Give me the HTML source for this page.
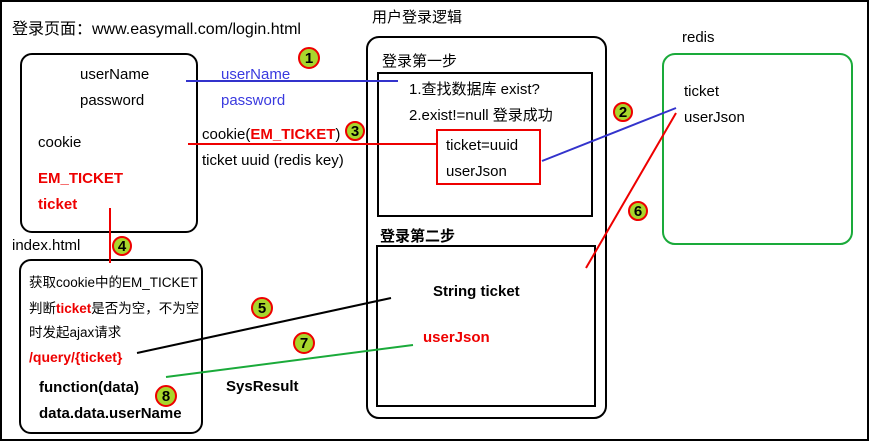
<!DOCTYPE html>
<html><head><meta charset="utf-8"><style>
body{margin:0;background:#fff;}
svg text{font-family:"Liberation Sans","Noto Sans CJK SC",sans-serif;font-size:15px;}
.b{font-weight:bold}
</style></head><body>
<svg width="871" height="442" xmlns="http://www.w3.org/2000/svg">
<rect x="1" y="1" width="867" height="439" fill="#fff" stroke="#000" stroke-width="2"/>
<rect x="21" y="54" width="176" height="178" rx="11" fill="none" stroke="#000" stroke-width="2"/>
<rect x="20" y="260" width="182" height="173" rx="11" fill="none" stroke="#000" stroke-width="2"/>
<rect x="367" y="37" width="239" height="381" rx="12" fill="none" stroke="#000" stroke-width="2"/>
<rect x="378" y="73" width="214" height="143" fill="none" stroke="#000" stroke-width="2"/>
<rect x="437" y="130" width="103" height="54" fill="none" stroke="#e00" stroke-width="2"/>
<rect x="377" y="246" width="218" height="160" fill="none" stroke="#000" stroke-width="2"/>
<rect x="663" y="54" width="189" height="190" rx="12" fill="none" stroke="#1aaa3a" stroke-width="2"/>

<line x1="186" y1="81" x2="398" y2="81" stroke="#3333cc" stroke-width="2"/>
<line x1="188" y1="144" x2="436" y2="144" stroke="#e00" stroke-width="2"/>
<line x1="110" y1="208" x2="110" y2="263" stroke="#e00" stroke-width="2"/>
<line x1="542" y1="161" x2="676" y2="108" stroke="#3333cc" stroke-width="2"/>
<line x1="586" y1="268" x2="676" y2="113" stroke="#e00" stroke-width="2"/>
<line x1="137" y1="353" x2="391" y2="298" stroke="#000" stroke-width="2"/>
<line x1="166" y1="377" x2="413" y2="345" stroke="#1aaa3a" stroke-width="2"/>

<text x="12" y="34" style="font-size:16px">登录页面：www.easymall.com/login.html</text>
<text x="372" y="22">用户登录逻辑</text>
<text x="682" y="42">redis</text>
<text x="80" y="79">userName</text>
<text x="80" y="105">password</text>
<text x="38" y="147">cookie</text>
<text x="38" y="183" class="b" fill="#e00">EM_TICKET</text>
<text x="38" y="209" class="b" fill="#e00">ticket</text>
<text x="221" y="79" fill="#3a3adf">userName</text>
<text x="221" y="105" fill="#3a3adf">password</text>
<text x="202" y="139">cookie(<tspan class="b" fill="#e00">EM_TICKET</tspan>)</text>
<text x="202" y="165">ticket uuid (redis key)</text>
<text x="382" y="66">登录第一步</text>
<text x="409" y="94">1.查找数据库 exist?</text>
<text x="409" y="120">2.exist!=null 登录成功</text>
<text x="446" y="150">ticket=uuid</text>
<text x="446" y="176">userJson</text>
<text x="380" y="241" class="b">登录第二步</text>
<text x="433" y="296" class="b">String ticket</text>
<text x="423" y="342" class="b" fill="#e00">userJson</text>
<text x="684" y="96">ticket</text>
<text x="684" y="122">userJson</text>
<text x="12" y="250">index.html</text>
<text x="29" y="287" style="font-size:13.5px">获取cookie中的EM_TICKET</text>
<text x="29" y="313" style="font-size:13.5px">判断<tspan class="b" fill="#e00">ticket</tspan>是否为空，不为空</text>
<text x="29" y="337" style="font-size:13.5px">时发起ajax请求</text>
<text x="29" y="362" class="b" fill="#e00" style="font-size:14px">/query/{ticket}</text>
<text x="39" y="392" class="b">function(data)</text>
<text x="39" y="418" class="b">data.data.userName</text>
<text x="226" y="391" class="b">SysResult</text>

<g fill="#a8d62c" stroke="#e00" stroke-width="2">
<circle cx="309" cy="58" r="10"/><circle cx="623" cy="112" r="9"/>
<circle cx="355" cy="131" r="9"/><circle cx="122" cy="246" r="9"/>
<circle cx="262" cy="308" r="10"/><circle cx="304" cy="343" r="10"/>
<circle cx="638" cy="211" r="9"/><circle cx="166" cy="396" r="10"/>
</g>
<g class="b" text-anchor="middle" style="font-size:13px;font-weight:bold">
<text x="309" y="63">1</text><text x="623" y="117">2</text>
<text x="355" y="136">3</text><text x="122" y="251">4</text>
<text x="262" y="313">5</text><text x="304" y="348">7</text>
<text x="638" y="216">6</text><text x="166" y="401">8</text>
</g>
</svg>
</body></html>
